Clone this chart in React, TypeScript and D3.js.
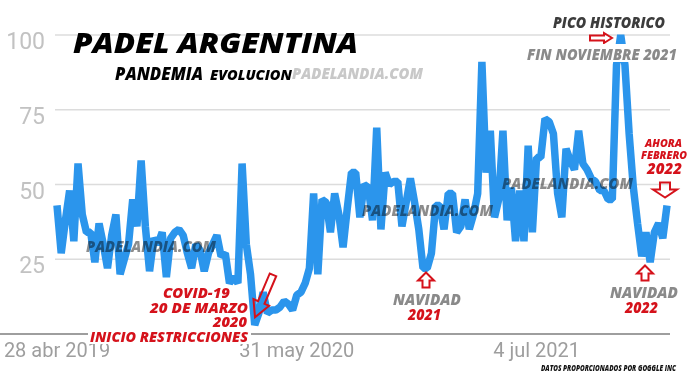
import React from 'react';
import * as d3 from 'd3';

// ---- data ----
const startDate = new Date(2019, 3, 28);
const interest: number[] = [
  43, 27, 38, 48, 31, 57, 40, 34, 34, 24,
  37, 30, 22, 33, 40, 20, 25, 30, 45, 36,
  58, 36, 21, 32, 30, 34, 19, 32, 34, 35,
  33, 27, 22, 30, 28, 21, 27, 30, 33, 26,
  27, 17, 19, 17, 57, 30, 20, 3, 7, 14,
  7, 8, 8, 9, 11, 10, 8, 13, 14, 17,
  22, 47, 20, 45, 44, 34, 47, 40, 29, 42,
  54, 54, 39, 50, 49, 38, 69, 35, 54, 50,
  51, 51, 36, 44, 52, 44, 35, 22, 22, 27,
  43, 43, 35, 47, 47, 34, 36, 45, 35, 40,
  47, 91, 54, 68, 39, 45, 68, 38, 49, 31,
  48, 31, 63, 34, 59, 59, 72, 71, 67, 47,
  39, 62, 58, 55, 68, 57, 55, 52, 51, 48,
  48, 45, 45, 90, 100, 90, 67, 49, 37, 26,
  34, 24, 34, 37, 32, 43,
];
const yTicks = [25, 50, 75, 100];
const xTickDates = [new Date(2019, 3, 28), new Date(2020, 4, 31), new Date(2021, 6, 4)];
const xTickLabels = ['28 abr 2019', '31 may 2020', '4 jul 2021'];

const W = 695;
const H = 382;
const RED = '#d5121b';
const FONT = '"Open Sans", "DejaVu Sans", sans-serif';

function blockArrow(h: number, hw: number, hl: number, sw: number): string {
  const t = -h / 2;
  const pts = [
    [0, t], [hw / 2, t + hl], [sw / 2, t + hl], [sw / 2, h / 2],
    [-sw / 2, h / 2], [-sw / 2, t + hl], [-hw / 2, t + hl],
  ];
  return 'M' + pts.map((p) => p.join(',')).join('L') + 'Z';
}

type TProps = { x: number; y: number; len: number; size: number; fill: string; children: string; weight?: number };
const T = ({ x, y, len, size, fill, children, weight = 800 }: TProps) => (
  <text x={x} y={y} fontSize={size} fill={fill} fontStyle="italic" fontWeight={weight}
    fontFamily={FONT} textLength={len} lengthAdjust="spacingAndGlyphs">{children}</text>
);

export default function App() {
  const dates = interest.map((_, i) => d3.timeWeek.offset(startDate, i));
  const x = d3.scaleTime().domain([dates[0], dates[dates.length - 1]]).range([57, 667]);
  const y = d3.scaleLinear().domain([0, 100]).range([334, 35]);
  const line = d3.line<number>().x((_, i) => x(dates[i])).y((d) => y(d));

  return (
    <svg width={W} height={H} style={{ position: 'absolute', left: 0, top: 0, background: '#fff' }}>
      <rect x={0} y={0} width={W} height={H} fill="#fff" />
      {/* gridlines */}
      {yTicks.map((t) => (
        <g key={t}>
          <line x1={55} x2={670} y1={y(t)} y2={y(t)} stroke="#dcdcdc" strokeWidth={1.5} />
          <text x={45} y={y(t) + 14} textAnchor="end" fontSize={23} fill="#c2c2c2"
            fontFamily="Roboto, sans-serif">{t}</text>
        </g>
      ))}
      <line x1={0} x2={670} y1={y(0)} y2={y(0)} stroke="#9e9e9e" strokeWidth={2} />
      {xTickDates.map((d, i) => (
        <text key={i} x={x(d)} y={357} textAnchor="middle" fontSize={20} fill="#9e9e9e"
          fontFamily="Roboto, sans-serif">{xTickLabels[i]}</text>
      ))}

      {/* series */}
      <path d={line(interest) || ''} fill="none" stroke="#2b95ec" strokeWidth={7.5}
        strokeLinejoin="bevel" />

      {/* title */}
      <T x={73} y={53} len={285} size={28} fill="#000">PADEL ARGENTINA</T>
      <T x={115} y={80} len={88} size={17} fill="#000">PANDEMIA</T>
      <T x={210} y={80} len={82} size={14} fill="#000">EVOLUCION</T>
      <T x={292} y={79} len={131} size={15} fill="#c8c8c8">PADELANDIA.COM</T>

      {/* watermarks */}
      <g style={{ mixBlendMode: 'multiply' }}>
        <T x={86} y={252} len={130} size={16} fill="#8c8c8c">PADELANDIA.COM</T>
        <T x={362} y={216} len={131} size={16} fill="#8c8c8c">PADELANDIA.COM</T>
        <T x={502} y={189} len={131} size={16} fill="#8c8c8c">PADELANDIA.COM</T>
      </g>

      {/* pico historico */}
      <T x={553} y={28} len={112} size={15} fill="#3c3c3c">PICO HISTORICO</T>
      <path d={blockArrow(22, 10, 8, 5)} transform="translate(601,38) rotate(90)" fill="none"
        stroke={RED} strokeWidth={2} />
      <rect x={524} y={44} width={158} height={18} fill="#fff" />
      <T x={527} y={60} len={150} size={15} fill="#8a8a8a">FIN NOVIEMBRE 2021</T>

      {/* covid */}
      <T x={163} y={298} len={67} size={14} fill={RED}>COVID-19</T>
      <T x={150} y={313} len={98} size={14} fill={RED}>20 DE MARZO</T>
      <T x={213} y={327} len={34} size={14} fill={RED}>2020</T>
      <rect x={88} y={329} width={163} height={15} fill="#fff" />
      <T x={90} y={342} len={158} size={14} fill={RED}>INICIO RESTRICCIONES</T>
      <path d={blockArrow(46, 17, 16, 7)} transform="translate(264,296) rotate(203)" fill="none"
        stroke={RED} strokeWidth={2} />

      {/* navidad 1 */}
      <path d={blockArrow(15, 16, 8, 7)} transform="translate(426,280)" fill="none" stroke={RED} strokeWidth={2} />
      <T x={393} y={305} len={68} size={15} fill="#8a8a8a">NAVIDAD</T>
      <T x={408} y={320} len={33} size={15} fill={RED}>2021</T>

      {/* navidad 2 */}
      <path d={blockArrow(15, 16, 8, 7)} transform="translate(645,273)" fill="none" stroke={RED} strokeWidth={2} />
      <T x={610} y={298} len={68} size={15} fill="#8a8a8a">NAVIDAD</T>
      <T x={625} y={313} len={33} size={15} fill={RED}>2022</T>

      {/* ahora */}
      <T x={645} y={147} len={37} size={11} fill={RED}>AHORA</T>
      <T x={641} y={159} len={46} size={11} fill={RED}>FEBRERO</T>
      <T x={647} y={174} len={35} size={15} fill={RED}>2022</T>
      <path d={blockArrow(15, 24, 8, 10)} transform="translate(665,190) rotate(180)" fill="none"
        stroke={RED} strokeWidth={2} />

      <T x={541} y={371} len={135} size={8} fill="#111">DATOS PROPORCIONADOS POR GOGGLE INC</T>
    </svg>
  );
}
